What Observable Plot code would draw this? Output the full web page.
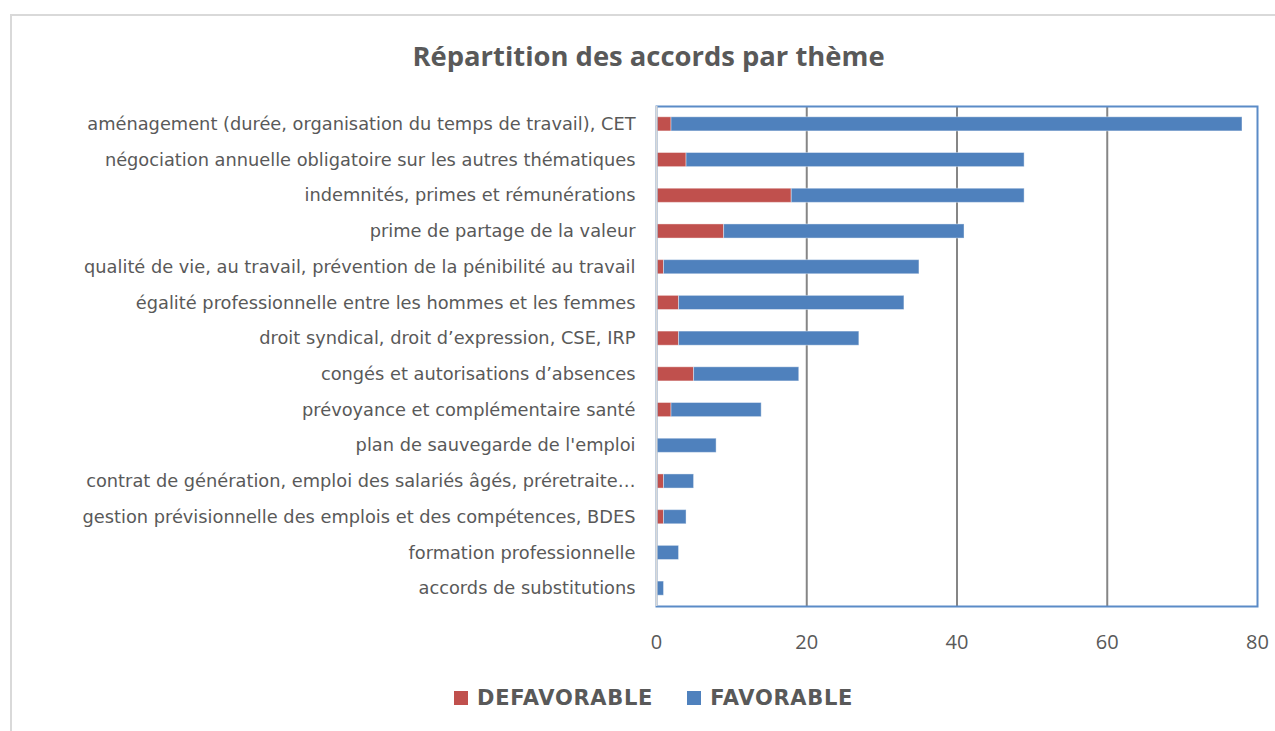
<!DOCTYPE html>
<html>
<head>
<meta charset="utf-8">
<script src="https://cdn.jsdelivr.net/npm/d3@7"></script>
<script src="https://cdn.jsdelivr.net/npm/@observablehq/plot@0.6"></script>
<style>
  html, body { margin: 0; padding: 0; background: #fff; }
  body { width: 1275px; height: 731px; position: relative; overflow: hidden; font-family: "Open Sans", Lato, sans-serif; }
  #frame { position: absolute; left: 10px; top: 14px; width: 1280px; height: 740px; border: 2px solid #d9d9d9; box-sizing: border-box; }
  #title { position: absolute; left: 0; width: 1297px; top: 37px; text-align: center; font-size: 27.4px; font-weight: bold; color: #595959; }
  #chart { position: absolute; left: 0; top: 0; line-height: 0; }
  #legend { position: absolute; top: 686px; left: 454px; display: flex; align-items: center; font-family: "DejaVu Sans", sans-serif; font-size: 21px; font-weight: bold; letter-spacing: 0.7px; color: #595959; }
  .sw { width: 14px; height: 14px; display: inline-block; margin-right: 9px; }
</style>
</head>
<body>
<div id="frame"></div>
<div id="title">Répartition des accords par thème</div>
<div id="chart"></div>
<div id="legend">
  <span class="sw" style="background:#c0504d"></span><span>DEFAVORABLE</span>
  <span class="sw" style="background:#4f81bd;margin-left:34px"></span><span>FAVORABLE</span>
</div>
<script>
const categories = [
  "aménagement (durée, organisation du temps de travail), CET",
  "négociation annuelle obligatoire sur les autres thématiques",
  "indemnités, primes et rémunérations",
  "prime de partage de la valeur",
  "qualité de vie, au travail, prévention de la pénibilité au travail",
  "égalité professionnelle entre les hommes et les femmes",
  "droit syndical, droit d’expression, CSE, IRP",
  "congés et autorisations d’absences",
  "prévoyance et complémentaire santé",
  "plan de sauvegarde de l'emploi",
  "contrat de génération, emploi des salariés âgés, préretraite…",
  "gestion prévisionnelle des emplois et des compétences, BDES",
  "formation professionnelle",
  "accords de substitutions"
];
const defavorable = [2, 4, 18, 9, 1, 3, 3, 5, 2, 0, 1, 1, 0, 0];
const favorable   = [76, 45, 31, 32, 34, 30, 24, 14, 12, 8, 4, 3, 3, 1];
const seriesNames = ["DEFAVORABLE", "FAVORABLE"];
const seriesColors = ["#c0504d", "#4f81bd"];
const xTicks = [0, 20, 40, 60, 80];

const rows = [];
categories.forEach((c, i) => {
  rows.push({cat: c, serie: seriesNames[0], value: defavorable[i]});
  rows.push({cat: c, serie: seriesNames[1], value: favorable[i]});
});

const chart = Plot.plot({
  width: 1275,
  height: 670,
  marginLeft: 656,
  marginRight: 18,
  marginTop: 106,
  marginBottom: 64,
  style: {fontFamily: "'Open Sans', Lato, sans-serif", color: "#595959", background: "transparent"},
  x: {domain: [0, 80], ticks: xTicks, label: null},
  y: {domain: categories, padding: 0, round: false, label: null},
  color: {domain: seriesNames, range: seriesColors},
  marks: [
    Plot.ruleX([20, 40, 60], {stroke: "#868686", strokeWidth: 2}),
    Plot.barX(rows, Plot.stackX({x: "value", y: "cat", fill: "serie", order: seriesNames, insetTop: 10.8, insetBottom: 10.8, stroke: "#fff", strokeOpacity: 0.4, strokeWidth: 1})),
    Plot.frame({stroke: "#5b8bc7", strokeWidth: 2}),
    Plot.ruleX([0], {stroke: "#d9d9d9", strokeWidth: 2}),
    Plot.axisX({ticks: xTicks, tickSize: 0, tickPadding: 28, fontSize: 20, fill: "#595959", label: null}),
    Plot.axisY({tickSize: 0, tickPadding: 21, fontSize: 17.8, fontFamily: "DejaVu Sans", fill: "#595959", label: null})
  ]
});
document.getElementById("chart").appendChild(chart);
</script>
</body>
</html>
